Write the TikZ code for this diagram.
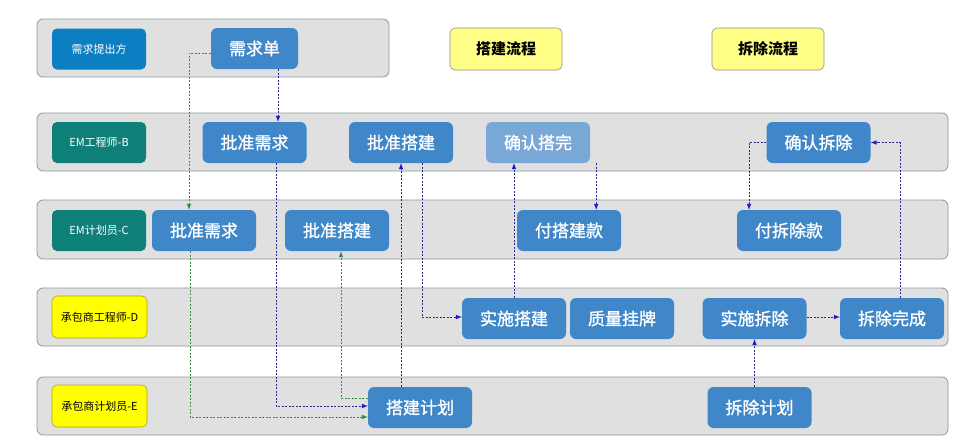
\documentclass[tikz,border=0pt]{standalone}
\usepackage{fontspec}
\newfontfamily\cjk{Noto Sans CJK SC}
\newfontfamily\cjkm[FakeBold=1.2]{Noto Sans CJK SC}
\usetikzlibrary{arrows.meta}
\definecolor{lanefill}{HTML}{E0E0E0}
\definecolor{laneborder}{HTML}{8A9898}
\definecolor{nodeblue}{HTML}{3F87C9}
\definecolor{lightblue}{HTML}{7AA8D6}
\definecolor{roleblue}{HTML}{0B7FC1}
\definecolor{roleteal}{HTML}{0F8078}
\definecolor{roleyellow}{HTML}{FFFF00}
\definecolor{yellowborder}{HTML}{B0A020}
\definecolor{titlefill}{HTML}{FFFF88}
\definecolor{titleborder}{HTML}{909080}
\definecolor{linkblue}{HTML}{2A2A8A}
\definecolor{tipblue}{HTML}{1A1ACC}
\definecolor{linkgreen}{HTML}{3A8A4A}
\begin{document}
\begin{tikzpicture}[x=1pt,y=-1pt,
  lane/.style={draw=laneborder, fill=lanefill, rounded corners=6pt, line width=0.8pt},
  rolebox/.style={rounded corners=5pt, minimum width=94pt, minimum height=41pt, inner sep=0pt,
    text=white, font=\cjk\fontsize{11}{13}\selectfont},
  roleyel/.style={rolebox, fill=roleyellow, draw=yellowborder, line width=0.6pt, text=black, minimum width=95pt, minimum height=42pt},
  task/.style={rounded corners=6pt, fill=nodeblue, minimum width=104pt, minimum height=41pt, inner sep=0pt,
    text=white, font=\cjkm\fontsize{17}{19}\selectfont},
  title/.style={rounded corners=5pt, fill=titlefill, draw=titleborder, line width=0.6pt, minimum width=112pt, minimum height=42pt,
    inner sep=0pt, font=\cjk\bfseries\fontsize{15}{17}\selectfont},
  bl/.style={draw=linkblue, line width=0.9pt, dash pattern=on 2pt off 1.5pt,
    -{Latex[length=6pt,width=4.5pt,fill=tipblue,line width=0pt]}},
  gr/.style={draw=linkgreen, line width=0.9pt, dash pattern=on 2pt off 1.5pt,
    -{Latex[length=6pt,width=4.5pt,fill=linkgreen,line width=0pt]}}
]
\useasboundingbox (0,0) rectangle (977,447);
\fill[white] (0,0) rectangle (977,447);

% lanes
\draw[lane] (37,19) rectangle (389,77);
\draw[lane] (37,113) rectangle (948,171);
\draw[lane] (37,200) rectangle (948,259);
\draw[lane] (37,288) rectangle (948,346);
\draw[lane] (37,377) rectangle (948,435);

% role boxes
\node[rolebox, fill=roleblue] (ra) at (99,49) {需求提出方};
\node[rolebox, fill=roleteal] (rb) at (99,142.5) {EM工程师-B};
\node[rolebox, fill=roleteal] (rc) at (99,230.5) {EM计划员-C};
\node[roleyel] (rd) at (99.5,317) {承包商工程师-D};
\node[roleyel] (re) at (99.5,406) {承包商计划员-E};

% titles
\node[title] (t1) at (506,49) {搭建流程};
\node[title] (t2) at (768,49) {拆除流程};

% tasks
\node[task, minimum width=87pt] (req) at (254.5,48.5) {需求单};
\node[task] (b1) at (254.5,142.5) {批准需求};
\node[task] (b2) at (401,142.5) {批准搭建};
\node[task, fill=lightblue] (b3) at (538,142.5) {确认搭完};
\node[task] (b4) at (818.5,142.5) {确认拆除};
\node[task] (c1) at (204,230.5) {批准需求};
\node[task] (c2) at (337,230.5) {批准搭建};
\node[task] (c3) at (569,230.5) {付搭建款};
\node[task] (c4) at (789,230.5) {付拆除款};
\node[task] (d1) at (514,318.5) {实施搭建};
\node[task] (d2) at (622,318.5) {质量挂牌};
\node[task] (d3) at (754.5,318.5) {实施拆除};
\node[task] (d4) at (892,318.5) {拆除完成};
\node[task] (e1) at (420,407.5) {搭建计划};
\node[task] (e2) at (759.5,407.5) {拆除计划};

% connectors
\draw[bl] ([xshift=23.5pt]req.south) -- ([xshift=23.5pt]req.south |- b1.north);
\draw[gr] ([yshift=-4.5pt]req.west) -| ([xshift=-15pt]c1.north);
\draw[gr] ([xshift=-14pt]c1.south) |- ([yshift=-9.5pt]e1.west);
\draw[bl] ([xshift=21.5pt]b1.south) |- ([yshift=1.5pt]e1.west);
\draw[gr] ([yshift=9.5pt]e1.west) -| ([xshift=4pt]c2.south);
\draw[bl] (e1.north -| b2.south) -- (b2.south);
\draw[bl] ([xshift=21pt]b2.south) |- ([yshift=1.5pt]d1.west);
\draw[bl] (d1.north) -- (d1.north |- b3.south);
\draw[bl] ([xshift=6pt]b3.south east) -- ([xshift=6pt]b3.south east |- c3.north);
\draw[bl] (b4.west) -| ([xshift=-40pt]c4.north);
\draw[bl] ([xshift=8pt]d4.north) |- (b4.east);
\draw[bl] ([yshift=1.5pt]d3.east) -- ([yshift=1.5pt]d4.west);
\draw[bl] (e2.north -| d3.south) -- (d3.south);
\end{tikzpicture}
\end{document}
